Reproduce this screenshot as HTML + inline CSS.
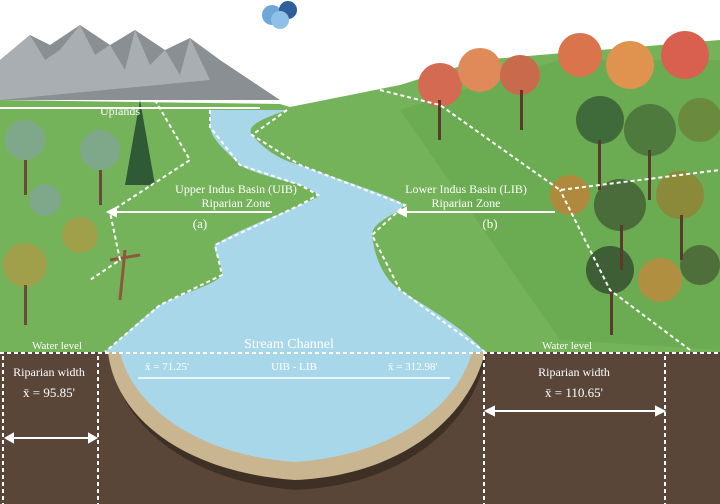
<!DOCTYPE html>
<html><head><style>html,body{margin:0;padding:0;background:#fff}svg{display:block}text{font-family:"Liberation Serif",serif;fill:#fff}</style></head><body>
<svg width="720" height="504" viewBox="0 0 720 504" xmlns="http://www.w3.org/2000/svg">
<rect width="720" height="504" fill="#fff"/>
<!-- mountains -->
<path d="M0 60 L30 35 L50 45 L80 25 L110 45 L135 30 L165 50 L190 38 L220 60 L250 80 L280 100 L0 100Z" fill="#8a8f94"/>
<path d="M30 35 L45 60 L60 50 L80 25 L95 55 L110 45 L125 70 L135 30 L150 65 L165 50 L180 75 L190 38 L210 80 L0 100 L0 60Z" fill="#a9aeb2"/>
<!-- green land -->
<path d="M0 100 L280 104 L290 107 L400 85 L480 60 L720 40 L720 352 L0 352Z" fill="#74b35a"/>
<path d="M400 110 L560 60 L720 60 L720 350 L560 340Z" fill="#5fa346" opacity=".4"/>
<!-- river -->
<path d="M210 110 L287 110 C265 118 245 125 252 135 C265 150 280 160 300 165 C340 180 390 195 405 205 C395 215 372 222 372 235 C375 260 385 280 400 290 C440 315 465 330 485 352 L105 352 C125 335 145 315 160 305 C185 292 215 285 222 275 C222 260 212 250 215 245 C240 228 280 215 300 205 C312 200 320 197 318 195 C310 188 305 187 300 185 C275 178 250 172 240 165 C225 150 212 140 210 127Z" fill="#a9d7ea"/>
<!-- soil -->
<rect x="0" y="352" width="720" height="152" fill="#5a4638"/>
<path d="M108 352 C118 420 180 480 295 490 C410 485 475 420 487 352Z" fill="#3f3026"/>
<path d="M108 352 C115 415 180 472 295 480 C405 475 470 415 485 352Z" fill="#c9b58f"/>
<path d="M120 352 C132 405 195 455 295 462 C395 455 458 405 472 352Z" fill="#a9d7ea"/>
<!-- trees right -->
<g>
<circle cx="440" cy="85" r="22" fill="#d46a52"/><circle cx="480" cy="70" r="22" fill="#e08a5a"/><circle cx="520" cy="75" r="20" fill="#c96a4c"/>
<circle cx="580" cy="55" r="22" fill="#d9744c"/><circle cx="630" cy="65" r="24" fill="#e0934f"/><circle cx="685" cy="55" r="24" fill="#d9604e"/>
<circle cx="600" cy="120" r="24" fill="#3f6b3a"/><circle cx="650" cy="130" r="26" fill="#4f7a3e"/><circle cx="700" cy="120" r="22" fill="#6a8a3e"/>
<circle cx="570" cy="195" r="20" fill="#b08a3c"/><circle cx="620" cy="205" r="26" fill="#4a6b3a"/><circle cx="680" cy="195" r="24" fill="#8a8a3a"/>
<circle cx="610" cy="270" r="24" fill="#3e5e35"/><circle cx="660" cy="280" r="22" fill="#b09040"/><circle cx="700" cy="265" r="20" fill="#4e6e3a"/>
<rect x="438" y="100" width="3" height="40" fill="#5a3a2a"/><rect x="520" y="90" width="3" height="40" fill="#5a3a2a"/><rect x="598" y="140" width="3" height="50" fill="#5a3a2a"/><rect x="648" y="150" width="3" height="50" fill="#5a3a2a"/><rect x="620" y="225" width="3" height="45" fill="#5a3a2a"/><rect x="610" y="290" width="3" height="45" fill="#5a3a2a"/><rect x="680" y="215" width="3" height="45" fill="#5a3a2a"/>
</g>
<!-- trees left -->
<g>
<circle cx="25" cy="140" r="20" fill="#7fa88a"/><circle cx="100" cy="150" r="20" fill="#7fa88a"/><circle cx="45" cy="200" r="16" fill="#7fa88a"/>
<path d="M140 100 L125 185 L155 185Z" fill="#2f5a35"/>
<circle cx="25" cy="265" r="22" fill="#a0a04a"/><circle cx="80" cy="235" r="18" fill="#a0a04a"/>
<rect x="24" y="160" width="3" height="35" fill="#6a4a3a"/><rect x="99" y="170" width="3" height="35" fill="#6a4a3a"/><rect x="24" y="285" width="3" height="40" fill="#6a4a3a"/>
<path d="M120 300 L125 250 M110 260 L140 255" stroke="#8a5a3a" stroke-width="3"/>
</g>
<!-- cloud -->
<circle cx="272" cy="15" r="10" fill="#6fa8d8"/><circle cx="288" cy="10" r="9" fill="#2f5f9a"/><circle cx="280" cy="20" r="9" fill="#8fc0e8"/>
<!-- dashed lines -->
<g stroke="#fff" stroke-width="2" stroke-dasharray="4 3" fill="none">
<line x1="0" y1="353" x2="720" y2="353"/>
<line x1="3" y1="356" x2="3" y2="504"/><line x1="98" y1="356" x2="98" y2="504"/>
<line x1="484" y1="356" x2="484" y2="504"/><line x1="665" y1="356" x2="665" y2="504"/>
<path d="M210 110 L210 127 L240 165 L300 185 L318 195 L300 205 L215 245 L222 275 L160 305 L105 352"/>
<path d="M287 110 L252 135 L300 165 L405 205 L372 235 L400 290 L485 352"/>
<path d="M155 100 L190 160 L110 212 L120 260 L90 280"/>
<path d="M380 90 L440 105 L560 190 L720 170"/><path d="M690 350 L610 290 L560 190"/>
</g>
<line x1="0" y1="108" x2="260" y2="108" stroke="#fff" stroke-width="2"/>
<!-- arrows -->
<g stroke="#fff" stroke-width="2" fill="#fff">
<line x1="110" y1="212" x2="272" y2="212"/><path d="M108 212 L116 208 L116 216Z"/>
<line x1="400" y1="212" x2="555" y2="212"/><path d="M398 212 L406 208 L406 216Z"/>
<line x1="8" y1="438" x2="94" y2="438"/><path d="M6 438 L13 434 L13 442Z"/><path d="M96 438 L89 434 L89 442Z"/>
<line x1="488" y1="411" x2="662" y2="411"/><path d="M486 411 L494 407 L494 415Z"/><path d="M664 411 L656 407 L656 415Z"/>
<line x1="138" y1="378" x2="450" y2="378" stroke-width="1.5"/>
</g>
<!-- labels -->
<text x="100" y="115" font-size="12">Uplands</text>
<text x="236" y="193" font-size="12" text-anchor="middle">Upper Indus Basin (UIB)</text>
<text x="236" y="207" font-size="12" text-anchor="middle">Riparian Zone</text>
<text x="200" y="228" font-size="13" text-anchor="middle">(a)</text>
<text x="466" y="193" font-size="12" text-anchor="middle">Lower Indus Basin (LIB)</text>
<text x="466" y="207" font-size="12" text-anchor="middle">Riparian Zone</text>
<text x="490" y="228" font-size="13" text-anchor="middle">(b)</text>
<text x="32" y="349" font-size="11">Water level</text>
<text x="542" y="349" font-size="11">Water level</text>
<text x="289" y="348" font-size="14" text-anchor="middle">Stream Channel</text>
<text x="145" y="370" font-size="11">x̄ = 71.25'</text>
<text x="294" y="370" font-size="11" text-anchor="middle">UIB - LIB</text>
<text x="388" y="370" font-size="11">x̄ = 312.98'</text>
<text x="49" y="376" font-size="12" text-anchor="middle">Riparian width</text>
<text x="49" y="397" font-size="13" text-anchor="middle">x̄ = 95.85'</text>
<text x="574" y="376" font-size="12" text-anchor="middle">Riparian width</text>
<text x="574" y="397" font-size="13" text-anchor="middle">x̄ = 110.65'</text>
</svg>
</body></html>
